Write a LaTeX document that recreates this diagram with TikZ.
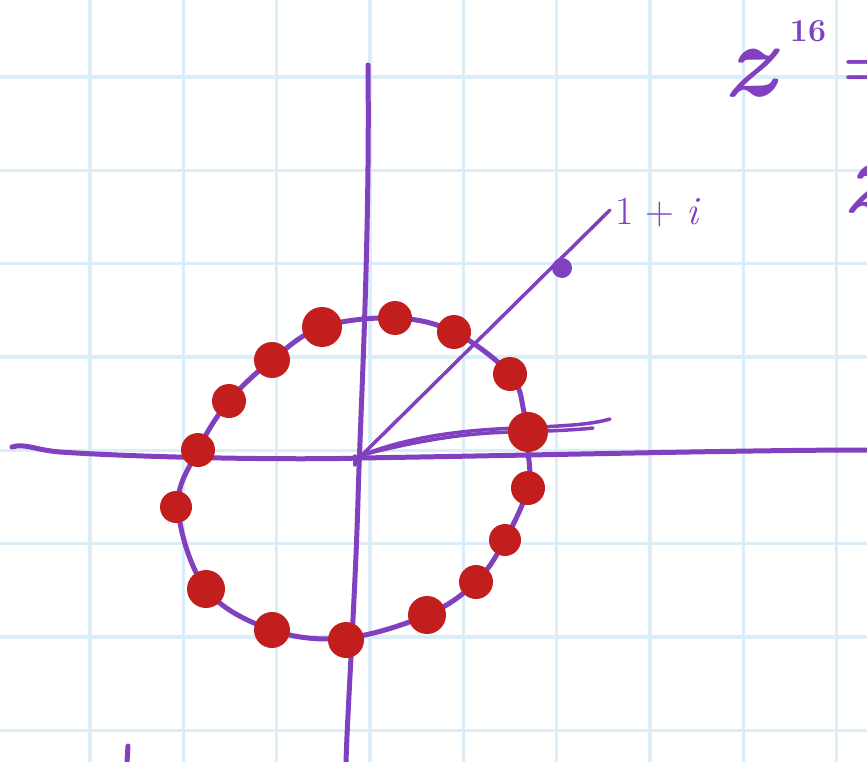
\documentclass[tikz,border=0pt]{standalone}
\usepackage{fontspec}
\usepackage{tikz}
\definecolor{pen}{RGB}{128,64,192}
\definecolor{dotred}{RGB}{194,30,30}
\definecolor{gridblue}{RGB}{220,237,250}
\begin{document}
\begin{tikzpicture}[x=1pt,y=-1pt,
  penline/.style={draw=pen,line width=5pt,line cap=round,line join=round},
  thinpen/.style={draw=pen,line width=3.5pt,line cap=round,line join=round},
  reddot/.style={fill=dotred},
  pentext/.style={text=pen,inner sep=0pt}]
\useasboundingbox (0,0) rectangle (867,762);
\fill[white] (0,0) rectangle (867,762);
% grid
\foreach \x in {90,183.3,276.7,370,463.3,556.7,650,743.3,836.7}
  \draw[gridblue,line width=3.5pt] (\x,0) -- (\x,762);
\foreach \y in {77,170.3,263.7,357,450.3,543.7,637,730.3}
  \draw[gridblue,line width=3.5pt] (0,\y) -- (867,\y);
% axes
\draw[penline] (12,447) .. controls (25,443) and (35,450) .. (60,452)
  .. controls (150,458) and (300,460) .. (360,458)
  .. controls (550,455) and (750,450) .. (867,450);
\draw[penline] (368,65) .. controls (370,250) and (360,420) .. (358,500)
  .. controls (355,600) and (348,700) .. (346,762);
\draw[thinpen] (355,456) -- (355,465);
% ray to 1+i
\draw[thinpen] (360,457) -- (610,210);
\fill[pen] (562,268) circle (10);
\node[pentext,font=\fontsize{40}{40}\selectfont,anchor=west] (lab) at (615,213) {1 + \textit{i}};
% rays near x axis
\draw[thinpen] (360,456) .. controls (400,440) and (450,430) .. (520,428)
  .. controls (560,426) and (590,425) .. (610,419);
\draw[thinpen] (362,455) .. controls (420,440) and (470,432) .. (520,432)
  .. controls (550,431) and (575,430) .. (593,428);
% circle
\draw[penline] plot[smooth cycle,tension=0.6] coordinates {(395,318)(454,332)(510,374)(524,412)(528,450)(528,488)(505,540)(476,582)(427,615)(346,638)(272,630)(206,589)(178,507)(198,450)(229,401)(272,360)(322,327)};
% dots
\foreach \p/\r in {{(395,318)}/17,{(454,332)}/17,{(510,374)}/17,{(528,432)}/20,{(528,488)}/17,{(505,540)}/16,{(476,582)}/17,{(427,615)}/19,{(346,640)}/18,{(272,630)}/18,{(206,589)}/19,{(176,507)}/16,{(198,450)}/17,{(229,401)}/17,{(272,360)}/18,{(322,327)}/20}
  \fill[reddot] \p circle (\r);
% top right text
\node[pentext,font=\fontsize{105}{105}\selectfont\bfseries,anchor=base] (z) at (752,97) {\textit{z}};
\node[pentext,font=\fontsize{32}{32}\selectfont\bfseries,anchor=base] (e) at (808,42) {16};
\node[pentext,font=\fontsize{70}{70}\selectfont\bfseries,anchor=base west] (eq) at (842,88) {=};
\node[pentext,font=\fontsize{105}{105}\selectfont\bfseries,anchor=base west] (z2) at (842,212) {\textit{z}};
% bottom left stroke
\draw[penline] (128,746) -- (127,762);
\end{tikzpicture}
\end{document}
